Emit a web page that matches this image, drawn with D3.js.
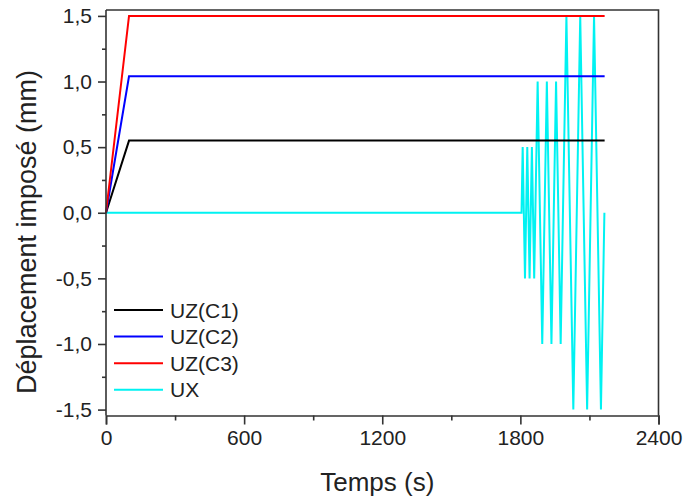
<!DOCTYPE html>
<html>
<head>
<meta charset="utf-8">
<script src="https://cdn.jsdelivr.net/npm/d3@7"></script>
<style>
  html, body { margin: 0; padding: 0; background: #fff; }
  svg { display: block; }
  text { font-family: "Liberation Sans", Arial, sans-serif; fill: #222; }
</style>
</head>
<body>
<svg id="chart" width="684" height="497"></svg>
<script>
// ---- data ----
const rampTimes = [0, 100, 2166];
const uzC1 = [0, 0.55, 0.55];
const uzC2 = [0, 1.04, 1.04];
const uzC3 = [0, 1.5, 1.5];

const uxTimes  = [0, 1805, 1810, 1820, 1830, 1840, 1850, 1860,
                  1875, 1895, 1915, 1935, 1955, 1975,
                  2000, 2030, 2060, 2090, 2120, 2150, 2165];
const uxValues = [0, 0, 0.5, -0.5, 0.5, -0.5, 0.5, -0.5,
                  1.0, -1.0, 1.0, -1.0, 1.0, -1.0,
                  1.5, -1.5, 1.5, -1.5, 1.5, -1.5, 0];

const seriesNames  = ["UZ(C1)", "UZ(C2)", "UZ(C3)", "UX"];
const seriesColors = ["#000000", "#0000ff", "#ff0000", "#00f2f2"];

const xTicks = [0, 600, 1200, 1800, 2400];
const xTickLabels = ["0", "600", "1200", "1800", "2400"];
const xMinorTicks = [300, 900, 1500, 2100];
const yTicks = [-1.5, -1.0, -0.5, 0, 0.5, 1.0, 1.5];
const yTickLabels = ["-1,5", "-1,0", "-0,5", "0,0", "0,5", "1,0", "1,5"];
const yMinorTicks = [-1.25, -0.75, -0.25, 0.25, 0.75, 1.25];

const xTitle = "Temps (s)";
const yTitle = "Déplacement imposé (mm)";

// ---- layout ----
const svg = d3.select("#chart");
const pLeft = 106, pRight = 658.5, pTop = 10, pBottom = 415.5;

const x = d3.scaleLinear().domain([0, 2400]).range([pLeft, pRight]);
const y = d3.scaleLinear().domain([-1.545, 1.545]).range([pBottom, pTop]);

const series = [
  rampTimes.map((t, i) => [t, uzC1[i]]),
  rampTimes.map((t, i) => [t, uzC2[i]]),
  rampTimes.map((t, i) => [t, uzC3[i]]),
  uxTimes.map((t, i) => [t, uxValues[i]])
];

const line = d3.line().x(d => x(d[0])).y(d => y(d[1]));

// draw order: UX first (under), then others
const order = [3, 0, 1, 2];
order.forEach(i => {
  svg.append("path")
    .attr("d", line(series[i]))
    .attr("fill", "none")
    .attr("stroke", seriesColors[i])
    .attr("stroke-width", 2)
    .attr("stroke-linejoin", "miter");
});

// frame: top and right
svg.append("path")
  .attr("d", `M${pLeft},${pTop}H${pRight}V${pBottom}`)
  .attr("fill", "none")
  .attr("stroke", "#333")
  .attr("stroke-width", 1.6);

// axes
const axisColor = "#333";
const xAxis = d3.axisBottom(x).tickValues(xTicks)
  .tickFormat((d, i) => xTickLabels[i]).tickSizeOuter(0).tickSize(9).tickPadding(6);
const gx = svg.append("g").attr("transform", `translate(0,${pBottom})`).call(xAxis);
const xMinor = d3.axisBottom(x).tickValues(xMinorTicks).tickFormat("").tickSize(5).tickSizeOuter(0);
const gxm = svg.append("g").attr("transform", `translate(0,${pBottom})`).call(xMinor);
gxm.select(".domain").remove();

const yAxis = d3.axisLeft(y).tickValues(yTicks)
  .tickFormat((d, i) => yTickLabels[i]).tickSizeOuter(0).tickSize(8).tickPadding(6);
const gy = svg.append("g").attr("transform", `translate(${pLeft},0)`).call(yAxis);
const yMinor = d3.axisLeft(y).tickValues(yMinorTicks).tickFormat("").tickSize(4).tickSizeOuter(0);
const gym = svg.append("g").attr("transform", `translate(${pLeft},0)`).call(yMinor);
gym.select(".domain").remove();

[gx, gxm, gy, gym].forEach(g => {
  g.selectAll("path, line").attr("stroke", axisColor).attr("stroke-width", 1.6);
  g.selectAll("text")
    .attr("font-family", "'Liberation Sans', Arial, sans-serif")
    .attr("font-size", 21).attr("fill", "#222");
});
gy.selectAll(".domain").attr("d", `M0,${pTop}V${pBottom}`);

// titles
svg.append("text")
  .attr("x", (pLeft + pRight) / 2 - 5)
  .attr("y", 491)
  .attr("text-anchor", "middle")
  .attr("font-size", 26)
  .text(xTitle);

svg.append("text")
  .attr("transform", `translate(36,232) rotate(-90)`)
  .attr("text-anchor", "middle")
  .attr("font-size", 27)
  .text(yTitle);

// legend
const legY0 = 310, legDy = 26.6;
seriesNames.forEach((name, i) => {
  const yy = legY0 + i * legDy;
  svg.append("line")
    .attr("x1", 114).attr("x2", 163)
    .attr("y1", yy).attr("y2", yy)
    .attr("stroke", seriesColors[i]).attr("stroke-width", 2);
  svg.append("text")
    .attr("x", 170).attr("y", yy)
    .attr("dy", "0.36em")
    .attr("font-size", 21)
    .text(name);
});
</script>
</body>
</html>
